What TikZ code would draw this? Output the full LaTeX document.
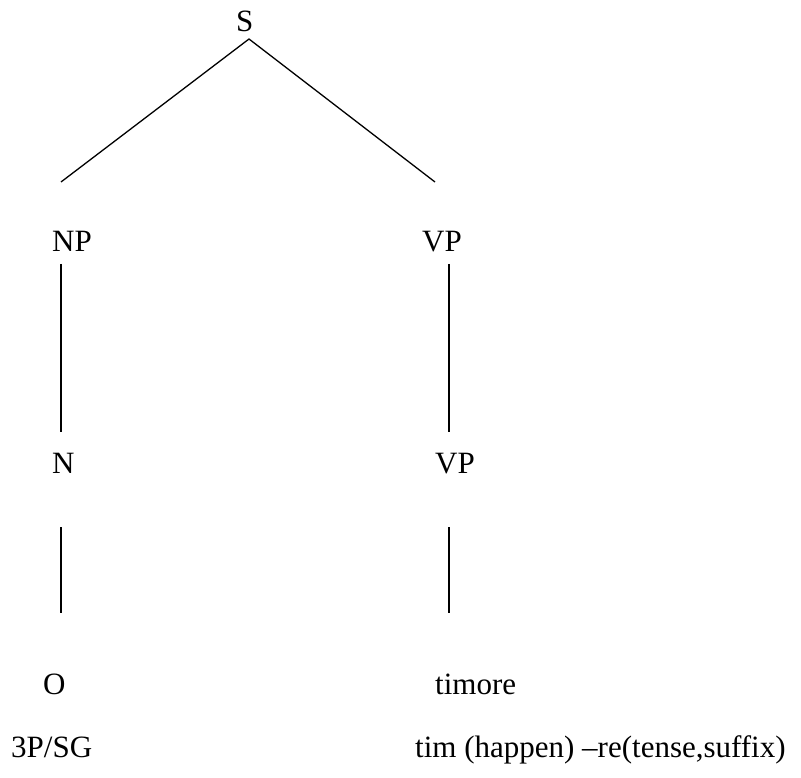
\documentclass[tikz,border=0pt]{standalone}
\usepackage{fontspec}
\setmainfont{Liberation Serif}
\begin{document}
\begin{tikzpicture}[x=1pt,y=-1pt,
  lbl/.style={anchor=base west,inner sep=0pt,font=\fontsize{31}{37}\selectfont},
  branch/.style={line width=1.3pt}]
\useasboundingbox (0,0) rectangle (801,778);
% category labels
\node[lbl] (s)   at (236,32)  {S};
\node[lbl] (np)  at (52,252)  {NP};
\node[lbl] (vp)  at (422,252) {VP};
\node[lbl] (n)   at (52,473)  {N};
\node[lbl] (vp2) at (435,473) {VP};
% words and glosses
\node[lbl] (o)    at (43,694)  {O};
\node[lbl] (tim)  at (435,694) {timore};
\node[lbl] (gl1)  at (11,757)  {3P/SG};
\node[lbl] (gl2)  at (415,757) {tim (happen) –re(tense,suffix)};
% branch end points
\coordinate (sf)  at (249,39);
\coordinate (npt) at (61,182);
\coordinate (vpt) at (435,182);
\coordinate (npb) at (61,264);
\coordinate (nt)  at (61,432);
\coordinate (vpb) at (449,264);
\coordinate (vp2t) at (449,432);
\coordinate (nb)  at (61,527);
\coordinate (ot)  at (61,613);
\coordinate (vp2b) at (449,527);
\coordinate (timt) at (449,613);
% branches
\draw[branch] (npt) -- (sf) -- (vpt);
\draw[branch] (npb) -- (nt);
\draw[branch] (vpb) -- (vp2t);
\draw[branch] (nb) -- (ot);
\draw[branch] (vp2b) -- (timt);
\end{tikzpicture}
\end{document}
